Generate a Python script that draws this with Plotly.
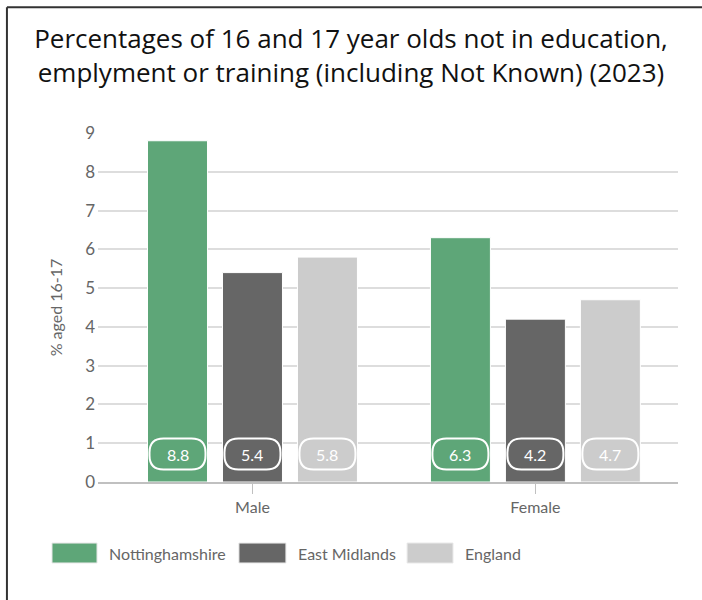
import plotly.graph_objects as go

# Data
categories = ["Male", "Female"]
series_names = ["Nottinghamshire", "East Midlands", "England"]
nottinghamshire = [8.8, 6.3]
east_midlands = [5.4, 4.2]
england = [5.8, 4.7]
series_values = [nottinghamshire, east_midlands, england]
series_colors = ["#5ea678", "#666666", "#cccccc"]
y_ticks = [0, 1, 2, 3, 4, 5, 6, 7, 8, 9]

BARGAP = 0.205
BARGROUPGAP = 0.2
LABEL_Y = 0.72          # vertical position of the value pills (data units)

fig = go.Figure()
for name, vals, col in zip(series_names, series_values, series_colors):
    fig.add_trace(go.Bar(
        x=categories, y=vals, name=name,
        marker=dict(color=col, line=dict(color="#ffffff", width=1)),
        showlegend=False, hoverinfo="x+y+name",
    ))

# value pills: rounded rectangle + white number, centred on each bar
slot = (1 - BARGAP) / len(series_names)
pill_w, pill_h, r = 56, 31, 14
hw, hh = pill_w / 2, pill_h / 2
pill_path = (
    f"M {-hw + r},{-hh} L {hw - r},{-hh} Q {hw},{-hh} {hw},{-hh + r} "
    f"L {hw},{hh - r} Q {hw},{hh} {hw - r},{hh} L {-hw + r},{hh} "
    f"Q {-hw},{hh} {-hw},{hh - r} L {-hw},{-hh + r} Q {-hw},{-hh} {-hw + r},{-hh} Z"
)
shapes = []
annotations = []
for si, (vals, col) in enumerate(zip(series_values, series_colors)):
    offset = (si - (len(series_names) - 1) / 2) * slot
    for ci, v in enumerate(vals):
        xc = ci + offset
        shapes.append(dict(
            type="path", xref="x", yref="y",
            xsizemode="pixel", ysizemode="pixel",
            xanchor=xc, yanchor=LABEL_Y, path=pill_path,
            fillcolor=col, line=dict(color="#ffffff", width=2), layer="above",
        ))
        annotations.append(dict(
            x=xc, y=LABEL_Y, xref="x", yref="y", text=f"{v:.1f}",
            showarrow=False, font=dict(family="Lato", size=16, color="#ffffff"),
        ))

# custom legend below the plot
legend_items = [(-0.0793, -0.0017), (0.243, 0.324), (0.533, 0.612)]
for (x0, x1), name, col in zip(legend_items, series_names, series_colors):
    shapes.append(dict(
        type="rect", xref="paper", yref="paper",
        x0=x0, x1=x1, y0=-0.232, y1=-0.175,
        fillcolor=col, line=dict(color="#e6e6e6", width=1), layer="above",
    ))
    annotations.append(dict(
        x=x1 + 0.017, y=-0.2035, xref="paper", yref="paper", text=name,
        xanchor="left", yanchor="middle", showarrow=False,
        font=dict(family="Lato", size=16, color="#666666"),
    ))

# frame lines on the left and top edges
shapes.append(dict(type="line", xref="paper", yref="paper",
                   x0=-0.157, x1=-0.157, y0=1.36, y1=-0.34,
                   line=dict(color="#333333", width=2)))
shapes.append(dict(type="line", xref="paper", yref="paper",
                   x0=-0.157, x1=1.05, y0=1.36, y1=1.36,
                   line=dict(color="#333333", width=2)))

fig.update_layout(
    width=702, height=600,
    margin=dict(l=98, r=24, t=133, b=118),
    paper_bgcolor="#ffffff", plot_bgcolor="#ffffff",
    barmode="group", bargap=BARGAP, bargroupgap=BARGROUPGAP,
    title=dict(
        text="Percentages of 16 and 17 year olds not in education,<br>"
             "emplyment or training (including Not Known) (2023)",
        x=0.5, xanchor="center", y=0.92, yanchor="top",
        font=dict(family="Open Sans", size=26, color="#111111"),
    ),
    xaxis=dict(
        type="category", range=[-0.546, 1.504],
        showgrid=False, showline=True, linecolor="#c0c0c0", linewidth=2,
        ticks="outside", ticklen=10, tickcolor="#c0c0c0", tickwidth=1,
        tickfont=dict(family="Lato", size=16, color="#666666"),
        fixedrange=True,
    ),
    yaxis=dict(
        range=[0, 9], tickvals=y_ticks,
        showgrid=True, gridcolor="#dddddd", gridwidth=2,
        zeroline=False, showline=False,
        ticks="", ticklabelstandoff=2,
        tickfont=dict(family="Lato", size=17, color="#666666"),
        title=dict(text="% aged 16-17", standoff=18,
                   font=dict(family="Lato", size=16, color="#666666")),
        fixedrange=True,
    ),
    shapes=shapes,
    annotations=annotations,
    showlegend=False,
)

fig.write_html("out.html")
